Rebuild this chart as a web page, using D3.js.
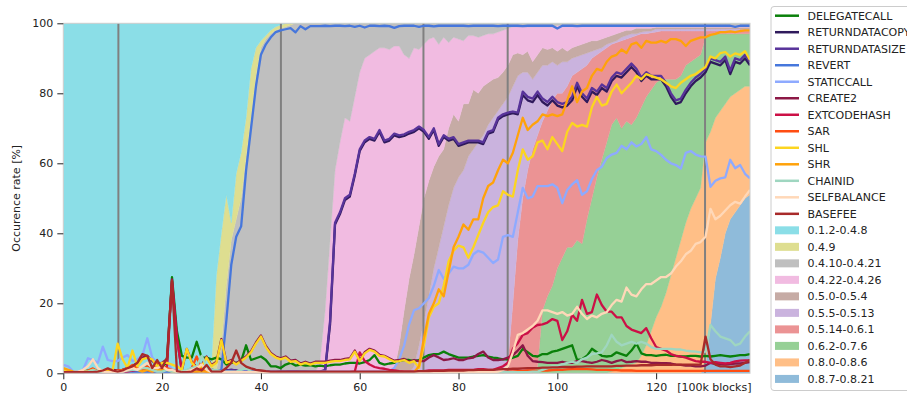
<!DOCTYPE html>
<html>
<head>
<meta charset="utf-8">
<script src="https://cdn.jsdelivr.net/npm/d3@7"></script>
<style>
  body { margin: 0; background: #fff; }
  svg { font-family: "DejaVu Sans", sans-serif; }
</style>
</head>
<body>
<div id="chart"></div>
<script>
// block index in units of 100k blocks (0..139)
const blockIdx = d3.range(140)

const opcodes = ['DELEGATECALL', 'RETURNDATACOPY', 'RETURNDATASIZE', 'REVERT', 'STATICCALL', 'CREATE2',
  'EXTCODEHASH', 'SAR', 'SHL', 'SHR', 'CHAINID', 'SELFBALANCE', 'BASEFEE']
const versions = ['0.1.2-0.4.8', '0.4.9', '0.4.10-0.4.21', '0.4.22-0.4.26', '0.5.0-0.5.4',
  '0.5.5-0.5.13', '0.5.14-0.6.1', '0.6.2-0.7.6', '0.8.0-0.8.6', '0.8.7-0.8.21']
const forkBlocks = [11.15, 44.05, 72.9, 89.95, 129.9]
const xTicks = [0, 20, 40, 60, 80, 100, 120]
const yTicks = [0, 20, 40, 60, 80, 100]

// opcode occurrence rate [%]
const delegatecall = [
  0.5,0.5,0.3,0.3,0.5,0.8,0.5,0.3,0.5,0.8,
  0.5,0.5,1,0.8,1,1.2,1.5,1,1.2,1.5,
  2,3,27.5,12,5,4.5,4.5,9,4.5,4.5,
  4,4.5,4,2.5,3,3,3.5,8,3.8,4.3,
  4.8,3.8,2,2,1.5,2.5,3,2.2,2.5,2.2,
  2.3,2,2.2,2,2.3,2.5,2.5,2.8,3,3,
  2.8,3.2,3.8,5.2,3,2.5,2.8,3,3.5,3.8,
  3.8,3.5,3.8,4.5,5.2,5.5,5.5,6.2,5.5,5,
  4.5,4.5,4.5,4.8,5,5.2,4.8,4.5,4.3,4,
  4,4.5,5,7,6,5,4.8,5.5,5.5,6.2,
  6.5,7,7.5,8,3.8,4,5,7,6,5,
  4.8,5,6,5.5,5,6.5,8.5,5.7,5.2,5.2,
  5,5.2,5.3,5,5,4.8,4.8,5,5,4.8,
  5,4.8,5,5.2,5,4.8,5,5.2,5.2,5.5]
const returndatacopy = [
  0.2,0.2,0.2,0.2,0.2,0.3,0.3,0.2,0.2,0.3,
  0.3,0.3,0.3,0.3,0.5,0.5,0.8,1,0.8,0.5,
  0.5,0.5,0.5,0.3,0.3,0.3,0.5,0.5,0.5,0.8,
  1,0.8,0.5,0.8,1,0.8,0.5,0.5,0.5,0.5,
  0.5,0.5,0.4,0.4,0.5,0.5,0.6,0.6,0.5,0.5,
  0.4,0.4,0.4,0.8,14,42.5,45.5,49.5,50.5,56.5,
  63.5,66,67,66.5,69,66,66.5,68,67.5,67.8,
  68.5,69,70,69,67,69.5,65,67.5,66.5,67,
  65,65.5,66,66,66,65.5,68.5,69,72.5,73.5,
  74,74.3,74,79.5,78,77.5,79.5,77.5,76.5,78,
  76.5,76,76.5,78,82,79,77.5,80.5,79.5,81.5,
  80.5,83.5,85,84.5,86,87.5,86,83.5,85,84,
  84,84,82,79,77,77.5,80,82,83.5,84.5,
  86,89,88.5,88,89.5,85.5,89,88.5,90,88]
const returndatasize = [
  0.2,0.2,0.2,0.2,0.2,0.3,0.3,0.2,0.2,0.3,
  0.3,0.3,0.3,0.3,0.5,0.5,0.8,1,0.8,0.5,
  0.5,0.5,0.5,0.3,0.3,0.3,0.5,0.5,0.5,0.8,
  1,0.8,0.5,0.8,1,0.8,0.5,0.5,0.5,0.5,
  0.5,0.5,0.4,0.4,0.5,0.5,0.6,0.6,0.5,0.5,
  0.5,0.5,0.5,1,15,43,46,50,51,57,
  64,66.5,67.5,67,69.5,66.5,67,68.5,68,68.3,
  69,69.5,70.5,69.5,67.5,70,65.5,68,67,67.5,
  65.5,66,66.5,66.5,66.5,66,69,69.5,73,74,
  74.5,74.8,74.5,80.5,79,78.5,80.5,78.5,77.5,79,
  77.5,77,77.5,79,83,80,78.5,81.5,80.5,82.5,
  81.5,84.5,86,85.5,87,88.5,87,84.5,86,85,
  85,85,83,80,78,78.5,81,83,84.5,85.5,
  87,90,89.5,89,90.5,86.5,90,89.5,91,89]
const revert = [
  0.3,0.3,0.3,0.3,0.3,0.3,0.3,0.3,0.3,0.3,
  0.3,0.3,0.3,0.3,0.3,0.3,0.3,0.3,0.3,0.3,
  0.3,0.3,0.5,0.3,0.3,0.3,0.3,0.3,0.3,0.3,
  0.3,0.5,1,15,31,39,42,58,70,82,
  91,94,96,97.5,98,98.3,98.6,97.4,99.2,98.3,
  99.2,99.2,99.2,99.3,99.2,99.3,99.3,99.2,99.3,99,
  99.3,98.8,99.3,99.3,99.2,99.3,99.2,98.7,99.2,99.3,
  99.3,99.3,99,99.3,99.3,99.1,99.3,99.3,99.3,99.3,
  99.3,99.3,99.2,99.3,99.3,99.3,99.3,99.3,99.2,99.3,
  99.3,99.3,99.3,99.2,99.3,99.3,99.3,99.3,99.3,99.3,
  98.5,99.3,99.3,99.3,99.2,99.3,99.3,99.3,99.3,99.3,
  99.3,99.3,99.3,99.3,99.3,99.3,99.3,99.3,99.3,99.3,
  99.3,99.3,99.3,99.3,99.3,99.3,99.3,99.3,99.3,99.3,
  99.3,99.3,99.3,99.3,99.3,99.3,99,99.3,99.3,99.3]
const staticcall = [
  2.4,2,0.5,0.5,1,4.3,3.8,3,7.6,3.8,
  3.5,3.5,4.5,5.2,3.5,4,5,10,4.5,3,
  3,3.5,1,1,0.5,0.5,0.5,0.5,0.5,0.5,
  0.5,0.5,0.5,0.5,0.5,0.5,0.5,0.5,0.5,0.5,
  0.5,0.5,0.5,0.5,0.5,0.5,0.5,0.5,0.5,0.5,
  0.5,0.5,0.5,0.5,0.5,0.5,0.5,0.5,0.5,0.5,
  0.5,0.5,0.5,0.5,0.5,0.5,0.5,1.5,4,8,
  14,18,18.6,20,21.5,25,29.5,27,28.5,30.5,
  30,30,31,34,35,34.5,33,31.5,32.5,39,
  39.5,39,46,53,50,50.5,53.5,53.5,53.5,54,
  53,48.6,52.4,54,55.2,51,52,55.5,58,59,
  61.5,62.5,63,65,64,66,64.8,65.5,67.5,64,
  63.5,62.4,61,60,59.5,58.5,63,63.5,62.5,62,
  61.9,53.3,55,55.7,56,61,58.6,59.5,57,55.7]
const create2 = [
  0.2,0.2,0.2,0.3,0.3,0.5,0.5,0.3,0.5,0.8,
  1,0.8,1,1.5,2,3,4.5,5,3.5,2.5,
  3,4,26.8,10,0.8,7,3.3,1.8,2.3,4.8,
  2.3,3.3,9.8,3.3,3.8,2.8,3.8,4.8,6.3,8.8,
  10.8,7.8,5.8,4.8,4.3,4.8,3.6,3.8,2.8,3.3,
  2.8,3.3,3.3,3.3,3.6,3.8,3.8,4.1,4.3,6.5,
  3.8,6,7,6.5,5.3,5,4.3,3.6,3.8,4.1,
  3.3,3.8,3.5,3.5,4.5,5.2,4.5,3.8,4,4.3,
  3.8,3.8,4.3,4.5,5.5,6.2,4.5,3.8,3.8,4,
  4.5,5.2,6.5,8,5,3.5,3.3,3.2,3,3,
  3,3.3,3,3,3.5,3.5,3.2,3,3.3,3.8,
  3.5,3,3.5,3.8,3.2,3.3,3.5,3.3,3.3,3,
  3,2.9,2.9,2.8,2.5,2.4,2.2,2.2,2,2,
  2.2,3,2.6,2.6,2.5,2.6,2.8,2.8,3,3.2]
const extcodehash = [
  0.2,0.2,0.2,0.2,0.2,0.2,0.2,0.2,0.2,0.2,
  0.3,0.3,0.5,0.5,0.8,1,1.5,1,0.5,1,
  1.5,2,26.5,10,0.3,0.5,0.5,0.5,0.8,0.5,
  0.3,0.5,0.5,0.3,0.3,0.5,0.3,0.3,0.3,0.3,
  0.3,0.3,0.3,0.3,0.3,0.3,0.3,0.3,0.3,0.3,
  0.3,0.3,0.3,0.3,0.3,0.3,0.3,0.3,0.3,0.5,
  6,3.5,2.5,1.8,1.5,1.3,1,0.8,0.6,0.5,
  0.5,0.5,0.6,0.6,0.8,0.8,0.8,0.8,1,1,
  1,1,1,1,1.2,1.2,1,1,1.5,2,
  3,7,8.6,11,11.5,13,13.8,14,14.5,15.5,
  15,9.5,12,16.7,15,21,17,17.5,22.5,19.5,
  17.6,17.6,16,16,13.5,12.5,12,11.5,12.9,10,
  7.5,7,6.5,5.5,5,4.8,4.5,4,3.5,3.3,
  3.3,3,3.2,3,2.8,3,3.4,3.6,3.7,3.7]
const sar = [
  0.5,0.3,0.2,0.3,0.5,0.8,1.4,0.5,0.3,0.5,
  0.5,0.8,1,1.5,2.4,1.5,1,2,1,3.3,
  2,1.5,1,0.5,0.5,0.8,1.5,4.8,1,0.5,
  0.3,0.3,0.3,0.3,0.3,0.3,0.3,0.3,0.3,0.3,
  0.3,0.3,0.3,0.3,0.3,0.3,0.3,0.3,0.3,0.3,
  0.3,0.3,0.3,0.3,0.3,0.3,0.3,0.3,0.3,0.3,
  0.3,0.3,0.3,0.3,0.3,0.3,0.3,0.3,0.3,0.3,
  0.3,0.3,0.3,0.3,0.3,0.3,0.3,0.3,0.3,0.3,
  0.3,0.3,0.3,0.3,0.3,0.3,0.3,0.3,0.3,0.3,
  0.5,0.5,0.6,0.6,0.8,0.8,0.7,0.8,0.8,0.9,
  1,1,1.1,1.2,1.3,1.2,1.2,1.1,1,1,
  1,0.9,0.9,0.8,0.8,0.8,0.7,0.7,0.7,0.7,
  0.7,0.7,0.7,0.7,0.7,0.7,0.7,0.7,0.7,0.7,
  0.7,0.7,0.7,0.7,0.7,0.7,0.7,0.7,0.7,0.7]
const shl = [
  1,0.5,0,0,0.5,0.5,1,0.5,0.5,1,
  1,8.5,4,1.5,6.5,2,4,4.5,4,2,
  3,3,2.5,2,1,7,3,1.5,2,4.5,
  2,3,9.5,3,3.5,2.5,3.5,4.5,6,8.5,
  10.5,7.5,5.5,4.5,4,4.5,3.3,3.5,2.5,3,
  2.5,3,3,3,3.3,3.5,3.5,3.8,4,6.2,
  3.5,5.7,6.7,6.2,5,4.8,4,3.3,3.5,3.8,
  3,3.5,1.5,8,16,19,20,25,32,35,
  36.5,36,33,36,39.5,43,46,47.5,48,52,
  51,50.5,58,64,61,62,66,66.5,64,67.5,
  65.5,63.5,69,71.5,70.5,71,70.5,76,79,76.5,
  77,80.5,82.5,80,81.5,83,85,84,85.5,85,
  84.5,84,83,82,81.5,83,84,85,85.5,86.5,
  87.5,90.5,90,91.5,91.8,90.5,91.4,91,92,89.5]
const shr = [
  1.5,1,0.5,0.3,0.3,0.5,0.5,0.3,0.3,0.5,
  0.5,0.5,0.8,1,1.5,1,0.5,1,0.5,1,
  1,1,0.5,0.3,0.3,0.3,0.5,0.5,0.5,0.5,
  0.3,0.3,0.3,0.3,0.3,0.3,0.3,0.3,0.3,0.3,
  0.3,0.3,0.3,0.3,0.3,0.3,0.3,0.3,0.3,0.3,
  0.3,0.3,0.3,0.3,0.3,0.3,0.3,0.3,0.3,0.3,
  0.3,0.3,0.3,0.3,0.3,0.3,0.3,0.3,0.3,0.3,
  0.3,0.3,2,10,17,20,24,22,29,36,
  39,42.5,41,44,44,50,53.5,54.5,58,61,
  60,63,68,73,69.5,71,72,74,73.5,74,
  73.5,74,78,82,77.5,80.5,81.5,85,87,86.5,
  89,90.5,91,92.5,91.5,94,94.5,93,95,94.5,
  94.5,95,94.5,95.5,95.5,95,93.5,95,95.5,96,
  96,96.7,97,97.5,97.5,97.7,97.5,97.8,98,98]
const chainid = [
  0.3,0.3,0.3,0.3,0.5,0.5,1,0.5,0.3,0.3,
  0.3,0.5,0.5,0.8,1,1,1.5,1.5,1,0.5,
  0.5,1,0.5,0.5,0.5,1,1.5,2,5,2,
  1,1,0.5,0.5,0.5,0.5,1,1.5,0.5,0.3,
  0.3,0.3,0.3,0.3,0.3,0.3,0.3,0.3,0.3,0.3,
  0.3,0.3,0.3,0.3,0.3,0.3,0.3,0.3,0.3,0.3,
  0.3,0.3,0.3,0.3,0.3,0.3,0.3,0.3,0.3,0.3,
  0.3,0.3,0.3,0.3,0.3,0.3,0.3,0.3,0.3,0.3,
  0.3,0.3,0.3,0.3,0.3,0.3,0.3,0.3,0.3,0.3,
  0.3,0.3,0.3,0.3,0.3,0.5,0.5,1,1.5,2,
  2,2.5,3,3.3,3,4,4.5,5.5,5.7,6,
  8,11,9,8,8.5,9,8.5,9,8.5,7.5,
  7,7,7,7,6.8,6.8,6.5,6.3,6.2,6,
  6.2,13.8,12,10.5,10,9.5,8,8.5,10.5,12]
const selfbalance = [
  0.3,0.3,0.3,0.5,1,2,4,1.5,0.5,0.3,
  0.3,0.5,0.5,1,1.5,1,2,3,1.5,1.5,
  2,1,1,0.5,0.3,0.5,1,1.5,2.5,1,
  0.3,0.3,0.3,0.3,0.3,0.3,0.3,0.3,0.3,0.3,
  0.3,0.3,0.3,0.3,0.3,0.3,0.3,0.3,0.3,0.3,
  0.3,0.3,0.3,0.3,0.3,0.3,0.3,0.3,0.3,0.3,
  0.3,0.3,0.3,0.3,0.3,0.3,0.3,0.3,0.3,0.3,
  0.3,0.3,0.3,0.3,0.3,0.3,0.3,0.3,0.3,0.3,
  0.3,0.3,0.3,0.3,0.3,0.3,0.3,0.3,0.5,1,
  2,6,11,11.5,12.5,13.5,15,18,18,17.5,
  17,17.5,16.5,17,19,17,15.5,16.5,16,17,
  17.5,19.5,21,20.5,24.5,22.5,22,24,25.5,25.5,
  26.5,27.5,27.5,28.5,30.5,32,34,35,37,37.5,
  39,47,44,45,46.5,48,49,48.5,50.5,52.4]
const basefee = [
  0.3,0.3,0.3,0.3,0.3,0.3,0.3,0.5,0.8,1.4,
  0.8,0.5,0.8,1.5,2,3,5.5,5,1.5,3.8,
  1.5,4.5,26.3,0.6,0.3,0.3,0.5,1.4,0.8,2.4,
  0.5,0.5,0.5,1.5,3,6.5,3,1.9,1.4,1,
  0.8,0.6,0.5,0.5,0.5,0.5,0.5,0.5,0.5,0.5,
  0.5,0.5,0.5,0.5,0.5,0.5,0.5,0.5,0.5,0.5,
  0.5,0.5,0.5,0.5,0.5,0.5,0.5,0.5,0.5,0.5,
  0.5,0.5,0.6,0.6,0.6,0.7,0.7,0.7,0.8,0.8,
  0.8,0.8,0.9,0.9,1,1,1,1,1.1,1.2,
  1.2,1.3,1.3,1.4,1.5,1.5,1.5,1.6,1.6,1.7,
  1.7,1.8,1.8,1.8,1.9,1.9,2,2,2,2,
  2,2,2.1,2.1,2.2,2.2,2.2,2.3,2.3,2.3,
  2.4,2.4,2.4,2.4,2.5,2.5,2.5,2.5,2.5,2.5,
  10.5,4,2.5,2,2,1.8,2,2.2,3,3.8]

// compiler version share [%]
const v0_1_2 = [
  100,100,100,100,100,100,100,100,100,100,
  100,100,100,100,100,100,100,100,100,100,
  100,100,100,100,100,100,100,100,100,100,
  97,72,60,49,57,43,37,27,13,7,
  5,3.5,2,1,0.5,0,0,0,0,0,
  0,0,0,0,0,0,0,0,0,0, 0,0,0,0,0,0,0,0,0,0, 0,0,0,0,0,0,0,0,0,0,
  0,0,0,0,0,0,0,0,0,0, 0,0,0,0,0,0,0,0,0,0, 0,0,0,0,0,0,0,0,0,0,
  0,0,0,0,0,0,0,0,0,0, 0,0,0,0,0,0,0,0,0,0, 0,0,0,0,0,0,0,0,0,0]
const v0_4_9 = [
  0,0,0,0,0,0,0,0,0,0, 0,0,0,0,0,0,0,0,0,0, 0,0,0,0,0,0,0,0,0,0,
  3,27,32,26,5,13,13,11,14,8,
  2,1,1,1,1,1,0.5,0,0,0,
  0,0,0,0,0,0,0,0,0,0, 0,0,0,0,0,0,0,0,0,0, 0,0,0,0,0,0,0,0,0,0,
  0,0,0,0,0,0,0,0,0,0, 0,0,0,0,0,0,0,0,0,0, 0,0,0,0,0,0,0,0,0,0,
  0,0,0,0,0,0,0,0,0,0, 0,0,0,0,0,0,0,0,0,0, 0,0,0,0,0,0,0,0,0,0]
const v0_4_10 = [
  0,0,0,0,0,0,0,0,0,0, 0,0,0,0,0,0,0,0,0,0, 0,0,0,0,0,0,0,0,0,0,
  0,1,8,25,38,44,50,62,73,85,
  93,95.5,97,98,98.5,99,99.5,100,100,100,
  100,100,96,82,62,42,34,27,28,21,
  14,10,9,8,7,7,7.5,6.5,6.5,9,
  10,7,7.5,6,4.5,4,6,4,5.5,4,
  4.5,5,3.5,3.5,4,3.5,3,3,2.5,2,
  1.5,1,1,1,1,1,1,1,1,1,
  0.6,0.6,0.6,0.6,0.6,0.6,0.6,0.6,0.6,0.6,
  0.6,0.6,0.6,0.6,0.6,0.6,0.6,0.6,0.6,0.6,
  0.6,0.6,0.6,0.6,0.6,0.6,0.6,0.6,0.6,0.6,
  0.6,0.6,0.6,0.6,0.6,0.6,0.6,0.6,0.6,0.6]
const v0_4_22 = [
  0,0,0,0,0,0,0,0,0,0, 0,0,0,0,0,0,0,0,0,0, 0,0,0,0,0,0,0,0,0,0,
  0,0,0,0,0,0,0,0,0,0, 0,0,0,0,0,0,0,0,0,0,
  0,0,4,18,38,58,66,73,72,79,
  86,90,91,92,93,93,92.5,92.5,85.5,73,
  63,59,50.5,44,40.5,37,32,32,24.5,22,
  23.5,18,19.5,15.5,16,14.5,14,13,13,12,
  10.5,8,7.5,8,7,10,8,6,6.5,6,
  7.4,6.4,7.4,6.4,5.9,5.4,4.9,4.4,4.4,3.9,
  3.4,2.9,2.4,1.9,1.4,1.4,0.8,0.8,0.8,0.8,
  0.5,0.5,0.5,0.5,0.5,0.5,0.5,0.5,0.5,0.5,
  0.5,0.5,0.5,0.5,0.5,0.5,0.5,0.5,0.5,0.5]
const v0_5_0 = [
  0,0,0,0,0,0,0,0,0,0, 0,0,0,0,0,0,0,0,0,0, 0,0,0,0,0,0,0,0,0,0,
  0,0,0,0,0,0,0,0,0,0, 0,0,0,0,0,0,0,0,0,0, 0,0,0,0,0,0,0,0,0,0,
  0,0,0,0,0,0,0,1,8,18,
  27,32,34,35,33,29,26,22,22,21,
  16,19,15,17,14,14,12,11,9.5,9,
  9,9,6.5,5,6,5,5,5,4.5,4,
  4,4,3,3,3,3,3,3,2.5,2.5,
  2,2,2,1.5,1.5,1,1.6,1.1,0.9,0.8,
  0.5,0.5,0.5,0.5,0.5,0.5,0.5,0.5,0.5,0.5,
  0.5,0.5,0.5,0.5,0.5,0.5,0.5,0.5,0.5,0.5]
const v0_5_5 = [
  0,0,0,0,0,0,0,0,0,0, 0,0,0,0,0,0,0,0,0,0, 0,0,0,0,0,0,0,0,0,0,
  0,0,0,0,0,0,0,0,0,0, 0,0,0,0,0,0,0,0,0,0, 0,0,0,0,0,0,0,0,0,0,
  0,0,0,0,0,0,0,0,0,0,
  0,2,8,15,22,30,36,42,48,53,
  56,58,62,64,66,68,71,73,75,77,
  76,62,47,36,28,20,18,16,13,11,
  8,9,7,5,4.5,4,3.5,2,1.5,1,
  1,0.5,0.5,1,1,1,0.5,0.5,0.7,0.5,
  0.9,0.6,0.6,0.6,0.6,0.6,0.6,0.6,0.6,0.6,
  0.6,0.6,0.6,0.6,0.6,0.6,0.6,0.6,0.6,0.6]
const v0_5_14 = [
  0,0,0,0,0,0,0,0,0,0, 0,0,0,0,0,0,0,0,0,0, 0,0,0,0,0,0,0,0,0,0,
  0,0,0,0,0,0,0,0,0,0, 0,0,0,0,0,0,0,0,0,0, 0,0,0,0,0,0,0,0,0,0,
  0,0,0,0,0,0,0,0,0,0, 0,0,0,0,0,0,0,0,0,0, 0,0,0,0,0,0,0,0,0,0,
  3,20,38,50,58,64,66,54,53,53,
  50,47,46,49,48,50,44,40,35,31,
  27,23,21.5,25,23.5,25,23.5,21,18,16.3,
  14.5,13.8,13.8,13.8,13.8,12.8,9.8,8.8,7.8,6.8,
  1.8,0.8,0.8,0.8,0.8,0.8,0.8,0.8,0.8,0.8]
const v0_6_2 = [
  0,0,0,0,0,0,0,0,0,0, 0,0,0,0,0,0,0,0,0,0, 0,0,0,0,0,0,0,0,0,0,
  0,0,0,0,0,0,0,0,0,0, 0,0,0,0,0,0,0,0,0,0, 0,0,0,0,0,0,0,0,0,0,
  0,0,0,0,0,0,0,0,0,0, 0,0,0,0,0,0,0,0,0,0, 0,0,0,0,0,0,0,0,0,0,
  0,0,0,0,0,0,2,18,22,25,
  30,33,36,36,38,37,44,50,56,61,
  66,70.5,72,68.5,70,68.5,70,71,71,69,
  67,65,61,56,51,47,45,42,40,38,
  30,28,24,22,20,18,17,16,15,15]
const v0_8_0 = [
  0,0,0,0,0,0,0,0,0,0, 0,0,0,0,0,0,0,0,0,0, 0,0,0,0,0,0,0,0,0,0,
  0,0,0,0,0,0,0,0,0,0, 0,0,0,0,0,0,0,0,0,0, 0,0,0,0,0,0,0,0,0,0,
  0,0,0,0,0,0,0,0,0,0, 0,0,0,0,0,0,0,0,0,0, 0,0,0,0,0,0,0,0,0,0,
  0,0,0,0,0,0,0,0,0,0, 0,0,0,0,0,0,0,0,0,0,
  0,0.5,1,1.5,2,2.5,3,5,8,12,
  16,19,23,28,33,38,43,47,50,53,
  64,55,46,42,37,35,34,33,32,31]
const v0_8_7 = [
  0,0,0,0,0,0,0,0,0,0, 0,0,0,0,0,0,0,0,0,0, 0,0,0,0,0,0,0,0,0,0,
  0,0,0,0,0,0,0,0,0,0, 0,0,0,0,0,0,0,0,0,0, 0,0,0,0,0,0,0,0,0,0,
  0,0,0,0,0,0,0,0,0,0, 0,0,0,0,0,0,0,0,0,0, 0,0,0,0,0,0,0,0,0,0,
  0,0,0,0,0,0,0,0,0,0, 0,0,0,0,0,0,0,0,0,0, 0,0,0,0,0,0,0,0,0,0,
  0,0,0,0,0,0,0,0,0,0,
  2,14,27,33,40,44,46,48,50,51]

var opSeries = [delegatecall, returndatacopy, returndatasize, revert, staticcall, create2,
  extcodehash, sar, shl, shr, chainid, selfbalance, basefee]
var verSeries = [v0_1_2, v0_4_9, v0_4_10, v0_4_22, v0_5_0, v0_5_5, v0_5_14, v0_6_2, v0_8_0, v0_8_7]

var opColors = ['#0a800a', '#2f1a5c', '#58339a', '#4677dc', '#8eaaff', '#8c1846',
  '#cc1046', '#ff4d12', '#fcd520', '#ffa20a', '#9fd6c0', '#ffd8b8', '#a82a2a']
// tab10 colours at half opacity over white
var verColors = ['#8bdee7', '#dede90', '#bfbfbf', '#f1bbe1', '#c6aba5', '#cab3de',
  '#eb9394', '#96d096', '#ffbf87', '#8fbbda']

var width = 907
var height = 400
var margin = { top: 23.3, left: 63.3, right: 157, bottom: 26.7 }

var svg = d3
  .select('#chart')
  .append('svg')
  .attr('width', width)
  .attr('height', height)

var x = d3.scaleLinear().domain([0, 139]).range([margin.left, width - margin.right])
var y = d3.scaleLinear().domain([0, 100]).range([height - margin.bottom, margin.top])

svg.append('clipPath').attr('id', 'plot-clip')
  .append('rect')
  .attr('x', x(0)).attr('y', y(100))
  .attr('width', x(139) - x(0)).attr('height', y(0) - y(100))

// stacked version areas, newest at the bottom
var table = blockIdx.map(i => {
  var row = { block: i }
  versions.forEach((v, k) => { row[v] = verSeries[k][i] })
  return row
})
var stack = d3.stack().keys(versions.slice().reverse())
var layers = stack(table)

var area = d3.area()
  .x(d => x(d.data.block))
  .y0(d => y(d[0]))
  .y1(d => y(d[1]))

var plot = svg.append('g').attr('clip-path', 'url(#plot-clip)')

plot.selectAll('.band')
  .data(layers)
  .enter()
  .append('path')
  .attr('class', 'band')
  .attr('d', area)
  .attr('fill', d => verColors[versions.indexOf(d.key)])
  .attr('stroke', d => verColors[versions.indexOf(d.key)])
  .attr('stroke-width', 0.4)

// hard fork markers
plot.selectAll('.fork')
  .data(forkBlocks)
  .enter()
  .append('line')
  .attr('class', 'fork')
  .attr('x1', d => x(d)).attr('x2', d => x(d))
  .attr('y1', y(0)).attr('y2', y(100))
  .attr('stroke', '#808080')
  .attr('stroke-width', 2)

var line = d3.line()
  .x((d, i) => x(blockIdx[i]))
  .y(d => y(d))

plot.selectAll('.op')
  .data(opSeries)
  .enter()
  .append('path')
  .attr('class', 'op')
  .attr('d', line)
  .attr('fill', 'none')
  .attr('stroke', (d, i) => opColors[i])
  .attr('stroke-width', 2.3)
  .attr('stroke-linejoin', 'round')

// frame
svg.append('rect')
  .attr('x', x(0)).attr('y', y(100))
  .attr('width', x(139) - x(0)).attr('height', y(0) - y(100))
  .attr('fill', 'none')
  .attr('stroke', '#cccccc')
  .attr('stroke-width', 1)

var xAxis = svg.append('g')
  .attr('transform', 'translate(0,' + y(0) + ')')
  .call(d3.axisBottom(x).tickValues(xTicks).tickSize(6).tickPadding(4))
var yAxis = svg.append('g')
  .attr('transform', 'translate(' + x(0) + ',0)')
  .call(d3.axisLeft(y).tickValues(yTicks).tickSize(6).tickPadding(4))

;[xAxis, yAxis].forEach(ax => {
  ax.select('.domain').remove()
  ax.selectAll('.tick line').attr('stroke', '#222')
  ax.selectAll('.tick text')
    .attr('fill', '#222')
    .attr('font-size', 11)
    .attr('font-family', '"DejaVu Sans", sans-serif')
})

svg.append('text')
  .attr('x', 751.5)
  .attr('y', y(0) + 10)
  .attr('dy', '0.71em')
  .attr('text-anchor', 'end')
  .attr('font-size', 11)
  .attr('fill', '#222')
  .text('[100k blocks]')

svg.append('text')
  .attr('transform', 'translate(16,' + (y(50)) + ') rotate(-90)')
  .attr('text-anchor', 'middle')
  .attr('dominant-baseline', 'central')
  .attr('font-size', 11)
  .attr('fill', '#222')
  .text('Occurence rate [%]')

// legend (runs past the right edge, as in the original figure)
var legend = svg.append('g')
legend.append('rect')
  .attr('x', 771).attr('y', 6.5)
  .attr('width', 160).attr('height', 384)
  .attr('rx', 3)
  .attr('fill', 'white')
  .attr('stroke', '#cccccc')

var entries = opcodes.map((n, i) => ({ name: n, color: opColors[i], kind: 'line' }))
  .concat(versions.map((n, i) => ({ name: n, color: verColors[i], kind: 'patch' })))

var item = legend.selectAll('.item')
  .data(entries)
  .enter()
  .append('g')
  .attr('class', 'item')
  .attr('transform', (d, i) => 'translate(0,' + (15.7 + i * 16.51) + ')')

item.filter(d => d.kind === 'line')
  .append('line')
  .attr('x1', 775).attr('x2', 799)
  .attr('stroke', d => d.color)
  .attr('stroke-width', 2.5)

item.filter(d => d.kind === 'patch')
  .append('rect')
  .attr('x', 775).attr('y', -4)
  .attr('width', 24).attr('height', 8)
  .attr('fill', d => d.color)

item.append('text')
  .attr('x', 807.5)
  .attr('dy', '0.35em')
  .attr('font-size', 11)
  .attr('fill', '#222')
  .text(d => d.name)
</script>
</body>
</html>
